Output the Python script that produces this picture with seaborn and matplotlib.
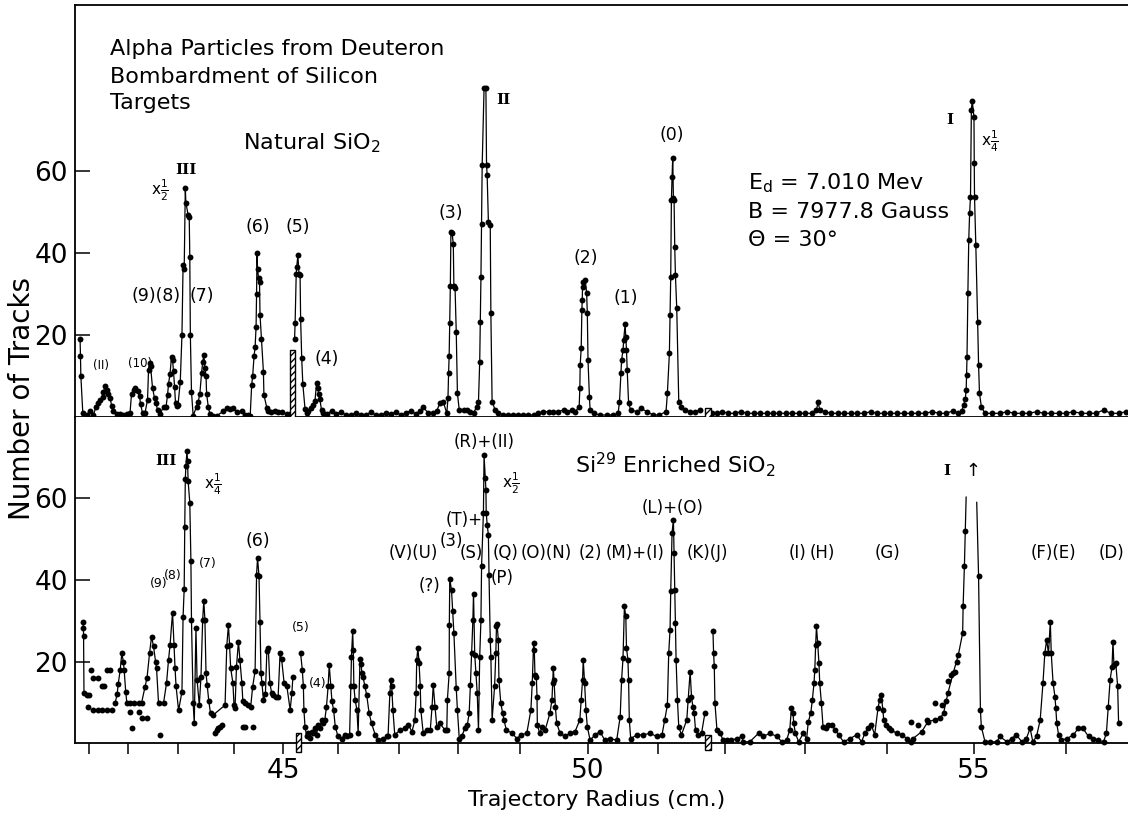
import numpy as np
import pandas as pd
import matplotlib
matplotlib.use("Agg")
import matplotlib.pyplot as plt
import seaborn as sns
from matplotlib.patches import Rectangle

# ─── x axis: tick marks of trajectory radius (cm) and where they sit on the plate ───
TICK_CM = [41, 42, 43, 44, 45, 46, 47, 48, 49, 50, 51, 52, 53, 54, 55, 56]
TICK_POS = [89, 128, 178, 234, 283, 338, 399, 458, 520, 588, 658, 725, 805, 887, 974, 1066]
LABELED = [45, 50, 55]
PLATE_EDGES_TOP = [45.17, 51.75]
PLATE_EDGES_BOT = [45.28, 51.75]

# ─── Natural SiO2 (top) ───
top_p1_r = [40.77, 40.78, 40.79, 40.84, 40.94, 41.03, 41.11, 41.18, 41.24, 41.28, 41.35, 41.37, 41.41,
            41.45, 41.49, 41.54, 41.58, 41.62, 41.71, 41.79, 41.88, 41.97, 42.04, 42.07, 42.11, 42.14,
            42.19, 42.23, 42.25, 42.29, 42.34, 42.39, 42.41, 42.43, 42.45, 42.49, 42.53, 42.56, 42.59,
            42.64, 42.71, 42.76, 42.79, 42.81, 42.84, 42.87, 42.89, 42.91, 42.93, 42.95, 42.97, 43.00,
            43.04, 43.07, 43.09, 43.11, 43.13, 43.14, 43.18, 43.20, 43.21, 43.22, 43.24, 43.27, 43.33,
            43.36, 43.39, 43.42, 43.44, 43.46, 43.48, 43.50, 43.51, 43.54, 43.57, 43.63, 43.69, 43.81,
            43.87, 43.93, 43.99, 44.06, 44.16, 44.22, 44.29, 44.33, 44.36, 44.38, 44.41, 44.43, 44.45,
            44.46, 44.47, 44.48, 44.50, 44.52, 44.53, 44.56, 44.60, 44.61, 44.67, 44.70, 44.76, 44.83,
            44.90, 44.97, 45.07, 45.13]
top_p1_n = [19, 15, 10, 1, 0.5, 1.5, 0.5, 2.5, 3.3, 4.1, 4.9, 6, 7.6,
            6.7, 5.5, 4.7, 2.7, 1.5, 0.7, 0.7, 0.5, 0.7, 1, 5.7, 6.5, 7,
            6.3, 5.1, 3.1, 1, 1, 4.2, 11.5, 13.2, 12.4, 7.1, 4.6, 3.4, 1.7,
            0.7, 2.5, 2.5, 5.3, 8.1, 10.6, 14.7, 13.9, 11.1, 7.4, 3.4, 2.8, 3,
            8.6, 20, 37, 36, 55.8, 52.3, 49.3, 48.9, 39, 20, 6.2, 0.3, 2.5,
            3.7, 5.7, 10.7, 13.3, 15.2, 12, 10, 5.7, 2.5, 0.7, 0.3, 0.3, 1.4,
            2.2, 2, 2.2, 1.2, 1.4, 0.5, 0.5, 0.3, 7.8, 10, 15, 17, 22,
            30, 40, 36, 34, 33, 25, 19, 11, 5.4, 2.2, 1.4, 1.2, 1.4,
            1.2, 1.2, 0.7, 0.7]

top_p2_r = [45.21, 45.22, 45.24, 45.25, 45.27, 45.29, 45.31, 45.32, 45.34, 45.36, 45.40, 45.43, 45.46,
            45.50, 45.54, 45.58, 45.61, 45.63, 45.65, 45.67, 45.70, 45.73, 45.80, 45.89, 45.96, 46.05,
            46.13, 46.21, 46.30, 46.38, 46.46, 46.54, 46.62, 46.70, 46.79, 46.87, 46.95, 47.03, 47.12,
            47.20, 47.29, 47.36, 47.41, 47.49, 47.58, 47.64, 47.69, 47.75, 47.81, 47.83, 47.84, 47.85,
            47.86, 47.87, 47.88, 47.90, 47.92, 47.93, 47.95, 47.97, 47.99, 48.02, 48.09, 48.14, 48.19,
            48.25, 48.30, 48.33, 48.35, 48.36, 48.37, 48.38, 48.39, 48.42, 48.45, 48.46, 48.47, 48.49,
            48.52, 48.53, 48.55, 48.60, 48.65, 48.73, 48.81, 48.89, 48.97, 49.05, 49.12, 49.20, 49.27,
            49.34, 49.42, 49.49, 49.56, 49.64, 49.69, 49.76, 49.81, 49.87, 49.88, 49.885, 49.90, 49.91,
            49.915, 49.92, 49.93, 49.96, 49.98, 49.99, 50.00, 50.02, 50.03, 50.08, 50.17, 50.27, 50.36,
            50.43, 50.45, 50.47, 50.48, 50.50, 50.51, 50.53, 50.54, 50.55, 50.56, 50.58, 50.61, 50.70,
            50.76, 50.84, 50.93, 51.02, 51.12, 51.14, 51.17, 51.18, 51.19, 51.20, 51.21, 51.22, 51.23,
            51.24, 51.25, 51.26, 51.28, 51.31, 51.35, 51.40, 51.48, 51.55, 51.63]
top_p2_n = [19, 23, 35, 36.7, 39.5, 35, 34.6, 24, 14.3, 8, 2, 1, 1.4,
            2.2, 3, 3.8, 8.3, 7.1, 5.5, 4.3, 1.7, 1, 0.8, 1.5, 0.7, 1.2,
            0.5, 0.5, 1, 0.5, 0.5, 1.2, 0.5, 0.5, 1, 0.7, 1.2, 0.5, 1,
            1.5, 0.7, 1.5, 2.5, 1, 1, 1.5, 3.3, 3.7, 0.9, 4.6, 10.7, 15,
            23, 32, 45.2, 44.8, 42.3, 32, 31.4, 20.8, 5.8, 1.7, 1.7, 1.7, 1.3,
            0.9, 2.5, 3.7, 13.5, 23.2, 34.2, 47.2, 61.5, 80.2, 80.2, 61.5, 59, 47.6,
            46.8, 25.3, 3.7, 1.7, 0.9, 0.5, 0.5, 0.5, 0.5, 0.5, 0.5, 0.5, 0.9,
            1.3, 1.3, 1.3, 1.3, 1.7, 1.3, 1.7, 1.3, 2.5, 7, 12.7, 16.8, 26.1,
            28.5, 31.8, 33, 33.4, 30.2, 25.3, 13.9, 5, 1.7, 0.9, 0.5, 0.5, 0.5,
            0.9, 3.7, 10.7, 13.9, 16.3, 18.8, 22.6, 19.6, 16.3, 11.5, 3.3, 1.7, 1.3,
            2.1, 1.3, 0.5, 0.5, 1.3, 5.8, 15.5, 24.9, 34.2, 52.9, 58.6, 63.3, 53.3,
            52.9, 41.5, 34.6, 26.5, 3.7, 2.5, 1.7, 1.3, 1.3, 1.7]

top_p3_r = [51.80, 51.88, 51.96, 52.04, 52.12, 52.20, 52.28, 52.36, 52.44, 52.52, 52.60, 52.68, 52.76,
            52.84, 52.92, 53.00, 53.08, 53.14, 53.16, 53.18, 53.24, 53.32, 53.40, 53.48, 53.56, 53.64,
            53.72, 53.80, 53.88, 53.96, 54.04, 54.12, 54.20, 54.28, 54.36, 54.44, 54.52, 54.60, 54.68,
            54.76, 54.82, 54.86, 54.88, 54.90, 54.91, 54.915, 54.92, 54.93, 54.94, 54.95, 54.96, 54.97,
            54.98, 55.00, 55.003, 55.006, 55.02, 55.04, 55.05, 55.06, 55.08, 55.12, 55.20, 55.28, 55.36,
            55.44, 55.52, 55.60, 55.68, 55.76, 55.84, 55.92, 56.00, 56.08, 56.16, 56.24, 56.32, 56.40,
            56.48, 56.56, 56.64]
top_p3_n = [0.9, 0.9, 1.3, 0.9, 0.9, 1.3, 0.9, 0.9, 0.9, 0.9, 0.9, 0.9, 0.9,
            0.9, 0.9, 0.9, 0.9, 1.7, 3.7, 1.7, 1.3, 0.9, 0.9, 0.9, 0.9, 0.9,
            0.9, 1.3, 0.9, 0.9, 0.9, 0.9, 0.9, 0.9, 0.9, 0.9, 1.3, 0.9, 0.9,
            1.5, 0.9, 1.5, 2.9, 4.3, 6.6, 10.2, 14.7, 30.2, 43.2, 49.7, 53.7, 74.9,
            77.1, 73.2, 61.9, 53.7, 42, 23.2, 12.7, 5.8, 2.5, 0.9, 0.9, 0.9, 1.3,
            0.9, 0.9, 0.9, 1.3, 0.9, 0.9, 0.9, 0.9, 1.3, 0.9, 0.9, 0.9, 1.7,
            0.9, 0.9, 1.3]

# ─── Si29 enriched SiO2 (bottom) ───
bot_a_r = [40.85, 40.855, 40.86, 40.87, 40.94]
bot_a_n = [29.8, 28.2, 26.3, 12.2, 11.8]

bot_p1_r = [41.67, 41.72, 41.75, 41.80, 41.84, 41.88, 41.90, 41.94, 41.97, 42.04, 42.11, 42.21, 42.27,
            42.34, 42.38, 42.43, 42.47, 42.51, 42.55, 42.57, 42.61, 42.71, 42.77, 42.81, 42.84, 42.89,
            42.92, 42.94, 42.96, 43.01, 43.07, 43.09, 43.11, 43.12, 43.13, 43.14, 43.16, 43.17, 43.18,
            43.21, 43.23, 43.24, 43.27, 43.29, 43.32, 43.34, 43.38, 43.41, 43.44, 43.46, 43.48, 43.50,
            43.52, 43.55, 43.58, 43.63, 43.84, 43.87, 43.90, 43.92, 43.94, 43.98, 44.00, 44.02, 44.05,
            44.09, 44.12, 44.16, 44.18, 44.22, 44.29, 44.34, 44.38, 44.43, 44.46, 44.48, 44.51, 44.53,
            44.55, 44.57, 44.60, 44.64, 44.67, 44.70, 44.73, 44.77, 44.80, 44.86, 44.90, 44.94, 44.97,
            45.02, 45.07, 45.13, 45.16, 45.18]
bot_p1_n = [9.8, 12, 14.6, 18, 22, 20, 18, 12.6, 9.8, 9.8, 9.8, 9.8, 9.8,
            13.8, 16, 22, 26.1, 23.7, 20, 18.4, 9.8, 9.8, 14.7, 20.4, 24, 32,
            24, 18.4, 14, 8, 12.6, 31, 37.8, 53, 64.7, 68, 71.6, 69.2, 64.3,
            59, 44.6, 30.2, 9.8, 4.8, 28.2, 15.5, 9.3, 16.3, 30.2, 34.9, 30.2, 17.1,
            14.3, 10.2, 7.3, 6.9, 9.3, 23.7, 29, 24.1, 18.4, 14.7, 9.3, 8.5, 18.7,
            24.9, 20.4, 14.7, 10.2, 9.8, 9.3, 8.9, 13.8, 17.7, 41.3, 45.4, 40.9, 29.8,
            17.1, 14.7, 10.6, 12, 22.5, 23.3, 14.7, 12.2, 11.8, 11.4, 11.4, 22, 20.7,
            14.7, 13.9, 8.1, 12.2, 16.3]

bot_p2_r = [45.32, 45.35, 45.37, 45.38, 45.40, 45.43, 45.46, 45.49, 45.52, 45.55, 45.58, 45.61, 45.64,
            45.67, 45.70, 45.73, 45.76, 45.79, 45.82, 45.84, 45.87, 45.89, 45.92, 45.95, 46.00, 46.06,
            46.11, 46.15, 46.19, 46.21, 46.22, 46.24, 46.25, 46.26, 46.28, 46.31, 46.33, 46.36, 46.38,
            46.39, 46.41, 46.44, 46.47, 46.51, 46.55, 46.61, 46.66, 46.74, 46.80, 46.82, 46.85, 46.87,
            46.88, 46.90, 46.93, 47.02, 47.10, 47.16, 47.22, 47.27, 47.29, 47.30, 47.32, 47.34, 47.36,
            47.37, 47.41, 47.47, 47.53, 47.56, 47.58, 47.61, 47.64, 47.69, 47.78, 47.81, 47.82, 47.85,
            47.853, 47.86, 47.89, 47.91, 47.93, 47.97, 47.99, 48.02, 48.06, 48.11, 48.15, 48.18, 48.20,
            48.22, 48.24, 48.25, 48.27, 48.29, 48.31, 48.33, 48.35, 48.37, 48.38, 48.41, 48.42, 48.44,
            48.45, 48.455, 48.47, 48.49, 48.50, 48.52, 48.53, 48.55, 48.59, 48.61, 48.62, 48.63, 48.65,
            48.66, 48.69, 48.72, 48.74, 48.78, 48.87, 48.95, 49.02, 49.10, 49.16, 49.18, 49.20, 49.21,
            49.22, 49.24, 49.25, 49.255, 49.29, 49.33, 49.37, 49.44, 49.47, 49.48, 49.49, 49.50, 49.52,
            49.54, 49.59, 49.66, 49.74, 49.81, 49.88, 49.90, 49.92, 49.93, 49.95, 49.97, 49.99, 50.03,
            50.10, 50.17, 50.24, 50.31, 50.41, 50.46, 50.48, 50.50, 50.52, 50.54, 50.55, 50.57, 50.58,
            50.59, 50.61, 50.70, 50.79, 50.89, 50.98, 51.06, 51.10, 51.14, 51.16, 51.18, 51.19, 51.21,
            51.23, 51.24, 51.25, 51.26, 51.27, 51.29, 51.31, 51.35, 51.43, 51.45, 51.48, 51.50, 51.52,
            51.54, 51.56, 51.60, 51.65, 51.70]
bot_p2_n = [22, 18, 13.9, 8.1, 4, 1.6, 2.4, 1.2, 2.8, 2.4, 3.6, 2, 4.4,
            3.6, 5.7, 4.8, 5.7, 8.9, 13.9, 19.2, 13.9, 10.2, 8.1, 4, 1.6, 1.1,
            2, 1.6, 2, 13.9, 21.2, 27.4, 22.9, 13.9, 10.6, 8.1, 2.4, 20.5, 19.3,
            17.1, 16.3, 13.9, 11.8, 7.3, 4.8, 2, 0.7, 1.1, 1.6, 1.6, 12.3, 15.5,
            13.9, 8.1, 2, 3.2, 3.6, 4.4, 2.8, 5.7, 12.2, 20.4, 23.3, 19.6, 13.9,
            8.1, 2.4, 3.2, 3.2, 8.9, 14.3, 8.9, 4, 4.8, 3.2, 3.2, 10.6, 17.1,
            29, 40.2, 37.5, 32.3, 27, 13.4, 8.1, 1.1, 1.6, 3.6, 4.4, 7.3, 14.3,
            22, 30.2, 36.6, 21.6, 17.1, 12.2, 3.2, 21.2, 30.2, 43.4, 56.5, 70.6, 65.1,
            62.2, 56.5, 53.6, 51.1, 41.3, 25.3, 21.2, 5.7, 13.9, 22, 28.6, 29.3, 25.3,
            15.5, 9.8, 7.3, 5.7, 3.2, 2.4, 1.1, 2, 2.4, 8.1, 14.7, 24.5, 22.9,
            16.7, 16.3, 11.4, 4.4, 2.4, 4, 3.2, 7.3, 10.6, 14.7, 18.4, 15.5, 8.9,
            4.8, 2.4, 1.6, 2.4, 2.8, 5.7, 10.6, 15.5, 20.4, 14.7, 8.1, 4, 0.7,
            2, 2.8, 0.7, 1.1, 0.7, 6.5, 15.5, 20.8, 33.5, 31.1, 23.3, 20.4, 15.5,
            5.7, 1.1, 2, 2, 2.4, 1.6, 2, 5.7, 9.3, 22, 27.8, 37.2, 51.6,
            54.8, 46.6, 37.6, 29.4, 20.4, 10.6, 4, 2, 5.7, 10.6, 17.5, 11.4, 8.9,
            7.3, 3.2, 2, 2.4, 7.3]

bot_p3_r = [51.82, 51.83, 51.84, 51.85, 51.88, 51.93, 51.97, 52.02, 52.08, 52.15, 52.21, 52.23, 52.31,
            52.42, 52.48, 52.56, 52.65, 52.71, 52.77, 52.81, 52.83, 52.85, 52.86, 52.88, 52.92, 52.98,
            53.02, 53.04, 53.07, 53.09, 53.11, 53.12, 53.13, 53.14, 53.155, 53.17, 53.18, 53.20, 53.22,
            53.26, 53.28, 53.33, 53.37, 53.41, 53.47, 53.55, 53.63, 53.69, 53.73, 53.77, 53.81, 53.85,
            53.89, 53.91, 53.93, 53.95, 53.96, 53.99, 54.02, 54.05, 54.11, 54.17, 54.23, 54.28, 54.30,
            54.40, 54.47, 54.55, 54.61, 54.65, 54.70, 54.76, 54.82, 54.87, 54.875, 54.89, 54.90]
bot_p3_n = [27.6, 22, 18.8, 9.8, 3.2, 2.4, 0.7, 0.7, 0.7, 1.1, 1.6, 0.3, 0.3,
            2.4, 1.6, 2.4, 1.6, 0.3, 0.7, 3.2, 8.5, 7.3, 4.8, 2.4, 0.3, 2.4,
            1, 5.2, 7.3, 10.6, 14.7, 18, 24.1, 28.6, 24.5, 19.6, 14.7, 9.8, 4,
            3.6, 4.4, 4.4, 3.2, 2, 0.3, 1.1, 2, 0.3, 2.4, 3.6, 4.4, 2,
            8.5, 10.6, 11.8, 8.1, 5.7, 4.4, 3.6, 3.2, 2.4, 2, 1.1, 0.3, 1.1,
            2.8, 5.2, 5.7, 6.1, 7.3, 12.2, 17.1, 21.6, 27, 33.5, 43.4, 52]

bot_p4_r = [55.05, 55.07, 55.08, 55.12, 55.17, 55.25, 55.28, 55.36, 55.41, 55.46, 55.52, 55.57, 55.61,
            55.64, 55.68, 55.72, 55.75, 55.77, 55.79, 55.81, 55.83, 55.84, 55.86, 55.88, 55.89, 55.90,
            55.92, 55.95, 56.01, 56.08, 56.13, 56.18, 56.24, 56.29, 56.34, 56.40, 56.43, 56.45, 56.47,
            56.49, 56.50, 56.51, 56.53, 56.55, 56.56]
bot_p4_n = [40.9, 8.1, 4, 0.3, 0.3, 0.3, 1.6, 0.3, 1.1, 2, 0.3, 1.1, 3.6,
            0.3, 1.6, 5.7, 14.7, 22, 25.3, 22, 29.8, 22, 14.7, 11.4, 8.5, 4.8,
            2, 0.7, 1.1, 2, 3.6, 3.6, 1.6, 1.1, 0.7, 0.3, 2.4, 8.9, 15.5,
            18.7, 24.9, 19.2, 19.6, 13.9, 4.8]

# line ends of the off-scale peak I (no points at the tops)
tail_l_r, tail_l_n = [54.90, 54.91], [52, 60.4]
tail_r_r, tail_r_n = [55.03, 55.05], [59.1, 40.9]

# points not joined by the curve
loose_r = [40.98, 41.00, 41.06, 41.11, 41.11, 41.24, 41.24, 41.33, 41.33, 41.39, 41.45, 41.45, 41.55,
           41.58, 42.04, 42.07, 42.21, 42.27, 42.38, 42.64, 43.66, 43.69, 43.72, 43.75, 43.78, 44.18,
           44.22, 44.38, 54.28, 54.36, 54.46, 54.55, 54.63, 54.68, 54.70, 54.74, 54.78, 54.80]
loose_n = [8.9, 11.8, 18, 15.9, 8.1, 15.9, 8.1, 8.1, 13.9, 13.9, 8.1, 18, 18,
           8.1, 7.7, 3.6, 7.7, 6.1, 6.1, 2, 2.4, 3.2, 3.6, 4, 4.4, 4,
           4, 4, 5.2, 4.4, 5.7, 9.8, 9.3, 10.2, 15.1, 16.7, 17.5, 20]

W, H = 1128, 816
CM_ANCH = [0] + TICK_CM + [100]
POS_ANCH = [TICK_POS[0] - 41 * 39] + TICK_POS + [TICK_POS[-1] + 44 * 94]


def to_plate(x):
    return np.interp(x, CM_ANCH, POS_ANCH)


def from_plate(p):
    return np.interp(p, POS_ANCH, CM_ANCH)


def frame(segs):
    return pd.concat([pd.DataFrame({"r": r, "n": n, "seg": k}) for k, (r, n) in segs.items()],
                     ignore_index=True)


sns.set_style("ticks")
plt.rcParams["font.family"] = ["DejaVu Sans"]
plt.rcParams["mathtext.default"] = "regular"
plt.rcParams["hatch.linewidth"] = 1.0
for key in ["text.color", "axes.labelcolor", "xtick.color", "ytick.color", "axes.edgecolor"]:
    plt.rcParams[key] = "black"

fig = plt.figure(figsize=(W / 100, H / 100), dpi=100)
ax_top = fig.add_axes([75 / W, 1 - 417 / H, (W - 75) / W, 412 / H])
ax_bot = fig.add_axes([75 / W, 1 - 743 / H, (W - 75) / W, 326 / H])

top = frame({"p1": (top_p1_r, top_p1_n), "p2": (top_p2_r, top_p2_n), "p3": (top_p3_r, top_p3_n)})
bot = frame({"a": (bot_a_r, bot_a_n), "p1": (bot_p1_r, bot_p1_n), "p2": (bot_p2_r, bot_p2_n),
             "p3": (bot_p3_r, bot_p3_n), "p4": (bot_p4_r, bot_p4_n)})
tails = frame({"l": (tail_l_r, tail_l_n), "r": (tail_r_r, tail_r_n)})
loose = pd.DataFrame({"r": loose_r, "n": loose_n})

for ax, df in [(ax_top, top), (ax_bot, bot)]:
    sns.lineplot(data=df, x="r", y="n", units="seg", estimator=None, sort=False,
                 color="black", lw=0.9, ax=ax, legend=False)
    sns.scatterplot(data=df, x="r", y="n", color="black", s=18, linewidth=0,
                    ax=ax, clip_on=False, legend=False, zorder=3)
sns.lineplot(data=tails, x="r", y="n", units="seg", estimator=None, sort=False,
             color="black", lw=0.9, ax=ax_bot, legend=False)
sns.scatterplot(data=loose, x="r", y="n", color="black", s=18, linewidth=0,
                ax=ax_bot, clip_on=False, legend=False, zorder=3)

for ax in (ax_top, ax_bot):
    ax.set_xscale("function", functions=(to_plate, from_plate))
    ax.set_xlim(40.64, 56.66)
    ax.set_xlabel("")
    ax.set_ylabel("")
    ax.set_yticks([20, 40, 60])
    ax.tick_params(axis="y", direction="in", length=11, width=1.1, labelsize=19, pad=5)
    ax.spines["right"].set_visible(False)
    for s in ax.spines.values():
        s.set_linewidth(1.3)

ax_top.set_ylim(0, 100.5)
ax_bot.set_ylim(0, 80)
ax_bot.spines["top"].set_visible(False)
ax_top.tick_params(axis="x", bottom=False, labelbottom=False)
ax_bot.set_xticks(TICK_CM)
ax_bot.set_xticklabels([str(c) if c in LABELED else "" for c in TICK_CM])
ax_bot.tick_params(axis="x", direction="out", length=8, width=1.1, labelsize=19, pad=3)

# plate boundary marks
for ax, edges, spans in [(ax_top, PLATE_EDGES_TOP, [(-2, 16.3), (-1.5, 2.2)]),
                         (ax_bot, PLATE_EDGES_BOT, [(-2.2, 2.5), (-1.7, 2)])]:
    for e, (y0, y1) in zip(edges, spans):
        ax.add_patch(Rectangle((e - 0.045, y0), 0.09, y1 - y0, facecolor="white",
                               edgecolor="black", hatch="/////", lw=1.0, clip_on=False, zorder=4))

serif = dict(family="DejaVu Serif", weight="bold", size=11)
labels = [
    ("Alpha Particles from Deuteron", 110, 49, "left", {"size": 16}),
    ("Bombardment of Silicon", 110, 77, "left", {"size": 16}),
    ("Targets", 110, 103, "left", {"size": 16}),
    ("Natural SiO$_2$", 243, 143, "left", {"size": 16}),
    ("III", 186, 170, "center", serif),
    (r"x$\frac{1}{2}$", 160, 190, "center", {"size": 11}),
    ("(6)", 258, 227, "center", {"size": 12.5}),
    ("(5)", 298, 227, "center", {"size": 12.5}),
    ("(9)(8)", 156, 296, "center", {"size": 12.5}),
    ("(7)", 202, 296, "center", {"size": 12.5}),
    ("(II)", 101, 366, "center", {"size": 8.5}),
    ("(10)", 140, 363, "center", {"size": 8.5}),
    ("(4)", 327, 359, "center", {"size": 12.5}),
    ("(3)", 451, 213, "center", {"size": 12.5}),
    ("II", 503, 100, "center", serif),
    ("(2)", 586, 258, "center", {"size": 12.5}),
    ("(1)", 626, 298, "center", {"size": 12.5}),
    ("(0)", 672, 135, "center", {"size": 12.5}),
    ("I", 950, 120, "center", serif),
    (r"x$\frac{1}{4}$", 990, 141, "center", {"size": 11}),
    ("E$_d$ = 7.010 Mev", 748, 183, "left", {"size": 16}),
    ("B = 7977.8 Gauss", 748, 212, "left", {"size": 16}),
    ("\u0398 = 30\u00b0", 748, 240, "left", {"size": 16}),
    ("III", 166, 461, "center", serif),
    (r"x$\frac{1}{4}$", 213, 484, "center", {"size": 11}),
    ("(6)", 258, 541, "center", {"size": 12.5}),
    ("(9)", 159, 584, "center", {"size": 9}),
    ("(8)", 173, 575, "center", {"size": 9}),
    ("(7)", 208, 564, "center", {"size": 9}),
    ("(5)", 301, 627, "center", {"size": 9}),
    ("(4)", 318, 684, "center", {"size": 9}),
    ("(V)(U)", 413, 553, "center", {"size": 12}),
    ("(T)+", 464, 520, "center", {"size": 12}),
    ("(3)", 451, 541, "center", {"size": 12}),
    ("(?)", 430, 586, "center", {"size": 12}),
    ("(R)+(II)", 484, 442, "center", {"size": 12}),
    (r"x$\frac{1}{2}$", 511, 483, "center", {"size": 11}),
    ("(S)", 471, 553, "center", {"size": 12}),
    ("(Q)", 506, 553, "center", {"size": 12}),
    ("(P)", 502, 578, "center", {"size": 12}),
    ("(O)(N)", 546, 553, "center", {"size": 12}),
    ("(2)", 590, 553, "center", {"size": 12}),
    ("(M)+(I)", 635, 553, "center", {"size": 12}),
    ("(L)+(O)", 673, 508, "center", {"size": 12}),
    ("(K)(J)", 707, 553, "center", {"size": 12}),
    ("(I)", 797, 553, "center", {"size": 12}),
    ("(H)", 822, 553, "center", {"size": 12}),
    ("(G)", 887, 553, "center", {"size": 12}),
    ("I", 947, 471, "center", serif),
    ("\u2191", 973, 471, "center", {"size": 13}),
    ("(F)(E)", 1053, 553, "center", {"size": 12}),
    ("(D)", 1112, 553, "center", {"size": 12}),
    ("Si$^{29}$ Enriched SiO$_2$", 575, 465, "left", {"size": 16}),
]
for s, px, py, ha, kw in labels:
    fig.text(px / W, 1 - py / H, s, ha=ha, va="center", **kw)

fig.text(22 / W, 1 - 398 / H, "Number of Tracks", rotation=90, ha="center", va="center", size=20)
fig.text(597 / W, 1 - 800 / H, "Trajectory Radius (cm.)", ha="center", va="center", size=16)

fig.savefig("out.png", dpi=100)
plt.close()
